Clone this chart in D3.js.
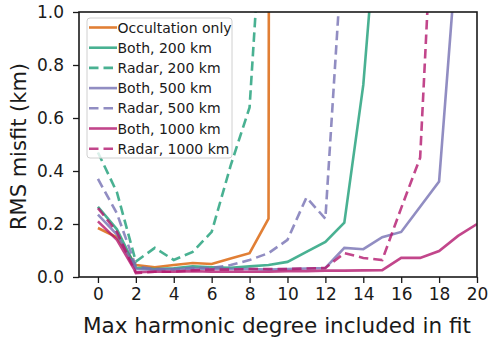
<!DOCTYPE html>
<html>
	<head>
		<script src="https://cdnjs.cloudflare.com/ajax/libs/d3/7.8.5/d3.min.js"></script>
		<style>
			body { margin: 0; background: white; }
			text { font-family: "DejaVu Sans", sans-serif; fill: #1a1a1a; }
		</style>
	</head>

	<body>
		<div id="chart-area"></div>

		<script>
			var containerWidth = 489;
			var containerHeight = 339;

			// max harmonic degree (x) and RMS misfit in km for each fit
			var degrees = [0, 1, 2, 3, 4, 5, 6, 7, 8, 9, 10, 11, 12, 13, 14, 15, 16, 17, 18, 19, 20];
			var occultation = [0.185, 0.15, 0.045, 0.037, 0.045, 0.053, 0.049, 0.07, 0.09, 0.22, 50];
			var both200 = [0.265, 0.18, 0.035, 0.03, 0.033, 0.04, 0.037, 0.035, 0.04, 0.045, 0.057, 0.095, 0.132, 0.205, 0.725, 1.6];
			var radar200 = [0.47, 0.32, 0.058, 0.11, 0.064, 0.095, 0.17, 0.42, 0.64, 1.77];
			var both500 = [0.235, 0.16, 0.03, 0.028, 0.03, 0.032, 0.03, 0.03, 0.03, 0.028, 0.03, 0.032, 0.034, 0.11, 0.105, 0.15, 0.17, 0.265, 0.36, 1.29];
			var radar500 = [0.37, 0.24, 0.04, 0.03, 0.028, 0.035, 0.034, 0.045, 0.064, 0.09, 0.14, 0.3, 0.22, 1.35];
			var both1000 = [0.21, 0.14, 0.018, 0.02, 0.02, 0.022, 0.02, 0.02, 0.02, 0.02, 0.022, 0.022, 0.024, 0.024, 0.025, 0.026, 0.072, 0.072, 0.098, 0.155, 0.2];
			var radar1000 = [0.26, 0.17, 0.015, 0.02, 0.02, 0.025, 0.028, 0.028, 0.03, 0.03, 0.03, 0.032, 0.034, 0.09, 0.072, 0.064, 0.26, 0.45, 1.9];

			var seriesNames = ["Occultation only", "Both, 200 km", "Radar, 200 km", "Both, 500 km", "Radar, 500 km", "Both, 1000 km", "Radar, 1000 km"];
			var seriesValues = [occultation, both200, radar200, both500, radar500, both1000, radar1000];
			var seriesColors = ["#d95f02", "#1b9e77", "#1b9e77", "#7570b3", "#7570b3", "#b3186e", "#b3186e"];
			var seriesDashed = [false, false, true, false, true, false, true];

			var xTicks = [0, 2, 4, 6, 8, 10, 12, 14, 16, 18, 20];
			var yTicks = [0, 0.2, 0.4, 0.6, 0.8, 1.0];

			var margin = { top: 12, right: 12, bottom: 62, left: 79 };
			var width = containerWidth - margin.left - margin.right;
			var height = containerHeight - margin.top - margin.bottom;

			var x = d3.scaleLinear()
						.domain([-1, 20])
						.range([0, width]);

			var y = d3.scaleLinear()
						.domain([0, 1])
						.range([height, 0]);

			var svg = d3.select("#chart-area")
						.append("svg")
						.attr("width", containerWidth)
						.attr("height", containerHeight);

			var g = svg.append("g")
						.attr("transform", "translate(" + margin.left + "," + margin.top + ")");

			g.append("clipPath")
				.attr("id", "plot-clip")
				.append("rect")
				.attr("width", width)
				.attr("height", height);

			var line = d3.line()
						.x(function(d, i) { return x(degrees[i]); })
						.y(function(d) { return y(d); });

			g.append("g")
				.attr("clip-path", "url(#plot-clip)")
				.selectAll("path")
				.data(seriesValues)
				.enter()
				.append("path")
				.attr("d", function(d) { return line(d); })
				.attr("fill", "none")
				.attr("stroke", function(d, i) { return seriesColors[i]; })
				.attr("stroke-opacity", 0.8)
				.attr("stroke-width", 2.6)
				.attr("stroke-dasharray", function(d, i) { return seriesDashed[i] ? "9.5,5" : null; });

			// axes
			var xAxisCall = d3.axisBottom(x)
								.tickValues(xTicks)
								.tickSize(6)
								.tickPadding(5);
			var xAxis = g.append("g")
				.attr("transform", "translate(0," + height + ")")
				.call(xAxisCall);

			var yAxisCall = d3.axisLeft(y)
								.tickValues(yTicks)
								.tickFormat(d3.format(".1f"))
								.tickSize(6)
								.tickPadding(9);
			var yAxis = g.append("g")
				.call(yAxisCall);

			[xAxis, yAxis].forEach(function(a) {
				a.select(".domain").remove();
				a.selectAll(".tick line").attr("stroke", "#1a1a1a").attr("stroke-width", 1.3);
				a.selectAll(".tick text").attr("font-size", "17px").attr("font-family", "DejaVu Sans");
			});

			// frame
			g.append("rect")
				.attr("width", width)
				.attr("height", height)
				.attr("fill", "none")
				.attr("stroke", "#1a1a1a")
				.attr("stroke-width", 1.6);

			// axis labels
			g.append("text")
				.attr("x", width / 2 - 1)
				.attr("y", height + 56)
				.attr("text-anchor", "middle")
				.attr("font-size", "21.5px")
				.text("Max harmonic degree included in fit");

			g.append("text")
				.attr("transform", "translate(" + (26 - margin.left) + "," + (height / 2 + 2) + ") rotate(-90)")
				.attr("text-anchor", "middle")
				.attr("font-size", "21px")
				.text("RMS misfit (km)");

			// legend
			var legend = g.append("g")
							.attr("transform", "translate(8, 6)");

			legend.append("rect")
				.attr("width", 145)
				.attr("height", 140)
				.attr("rx", 3)
				.attr("ry", 3)
				.attr("fill", "white")
				.attr("fill-opacity", 0.8)
				.attr("stroke", "#d0d0d0")
				.attr("stroke-width", 1);

			var rowHeight = 20.2;
			var entries = legend.selectAll("g.entry")
							.data(seriesNames)
							.enter()
							.append("g")
							.attr("class", "entry")
							.attr("transform", function(d, i) {
								return "translate(0," + (9.5 + i * rowHeight) + ")";
							});

			entries.append("line")
				.attr("x1", 2)
				.attr("x2", 30)
				.attr("stroke", function(d, i) { return seriesColors[i]; })
				.attr("stroke-opacity", 0.8)
				.attr("stroke-width", 2.6)
				.attr("stroke-dasharray", function(d, i) { return seriesDashed[i] ? "9.5,5" : null; });

			entries.append("text")
				.attr("x", 30.5)
				.attr("dy", "0.36em")
				.attr("font-size", "14px")
				.text(function(d) { return d; });

		</script>
	</body>
</html>
